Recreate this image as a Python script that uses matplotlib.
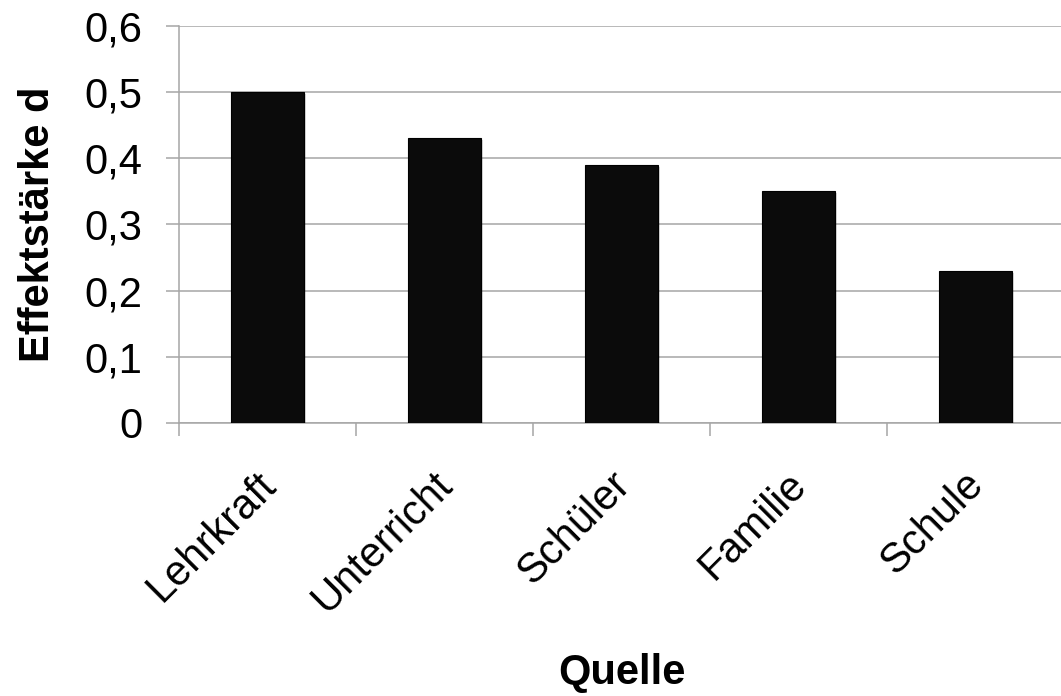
#!/usr/bin/env python3
# Effektstärke nach Quelle - Balkendiagramm

import numpy as np
import matplotlib.pyplot as plt
import matplotlib.patheffects as pe
import matplotlib.transforms as mtransforms
from matplotlib.ticker import FixedLocator, FuncFormatter

categories = ["Lehrkraft", "Unterricht", "Schüler", "Familie", "Schule"]
values = [0.50, 0.43, 0.39, 0.35, 0.23]
y_ticks = [0, 0.1, 0.2, 0.3, 0.4, 0.5, 0.6]

plt.rcParams["font.family"] = ["Liberation Sans", "DejaVu Sans"]

GRID = "#a6a6a6"
FS = 30
W, H = 1061, 696


def comma_fmt(v, _pos):
    if abs(v) < 1e-9:
        return "0"
    return f"{v:.1f}".replace(".", ",")


def main():
    fig = plt.figure(figsize=(W / 100, H / 100), dpi=100)
    ax = fig.add_axes([179 / W, 1 - 423 / H, 885 / W, (423 - 25.7) / H])

    x = np.arange(len(categories))
    bars = ax.bar(x, values, width=0.41, color="#0b0b0b", edgecolor="#000000",
                  linewidth=0.8, zorder=3)
    for b in bars:
        b.set_path_effects([pe.SimplePatchShadow(offset=(1.5, -1.5), shadow_rgbFace="#000000",
                                                 alpha=0.15), pe.Normal()])

    ax.set_xlim(-0.5, len(categories) - 0.5)
    ax.set_ylim(0, 0.6)
    ax.set_yticks(y_ticks)
    ax.yaxis.set_major_formatter(FuncFormatter(comma_fmt))
    ax.yaxis.grid(True, color=GRID, linewidth=1.1, zorder=0)
    ax.set_axisbelow(True)

    for side in ("top", "right"):
        ax.spines[side].set_visible(False)
    for side in ("left", "bottom"):
        ax.spines[side].set_color(GRID)
        ax.spines[side].set_linewidth(1.1)

    ax.tick_params(axis="y", length=9.4, width=1.1, color=GRID, labelsize=FS, pad=17)

    # labels at category centres, tick marks at category boundaries
    ax.set_xticks(x)
    ax.set_xticklabels(categories, rotation=45, ha="right", va="top",
                       rotation_mode="anchor", fontsize=FS)
    ax.tick_params(axis="x", which="major", length=0, pad=30)
    shift = mtransforms.ScaledTranslation(-12 / 100, 0, fig.dpi_scale_trans)
    for lbl in ax.get_xticklabels():
        lbl.set_transform(lbl.get_transform() + shift)
    ax.xaxis.set_minor_locator(FixedLocator(np.arange(-0.5, len(categories), 1.0)))
    ax.tick_params(axis="x", which="minor", length=9.4, width=1.1, color=GRID)

    fig.text(38 / W, 1 - 224 / H, "Effektstärke d", fontsize=FS, fontweight="bold",
             rotation=90, ha="center", va="center")
    fig.text(621.5 / W, 1 - 673 / H, "Quelle", fontsize=FS, fontweight="bold",
             ha="center", va="center")

    fig.savefig("out.png", dpi=100)


if __name__ == "__main__":
    main()
